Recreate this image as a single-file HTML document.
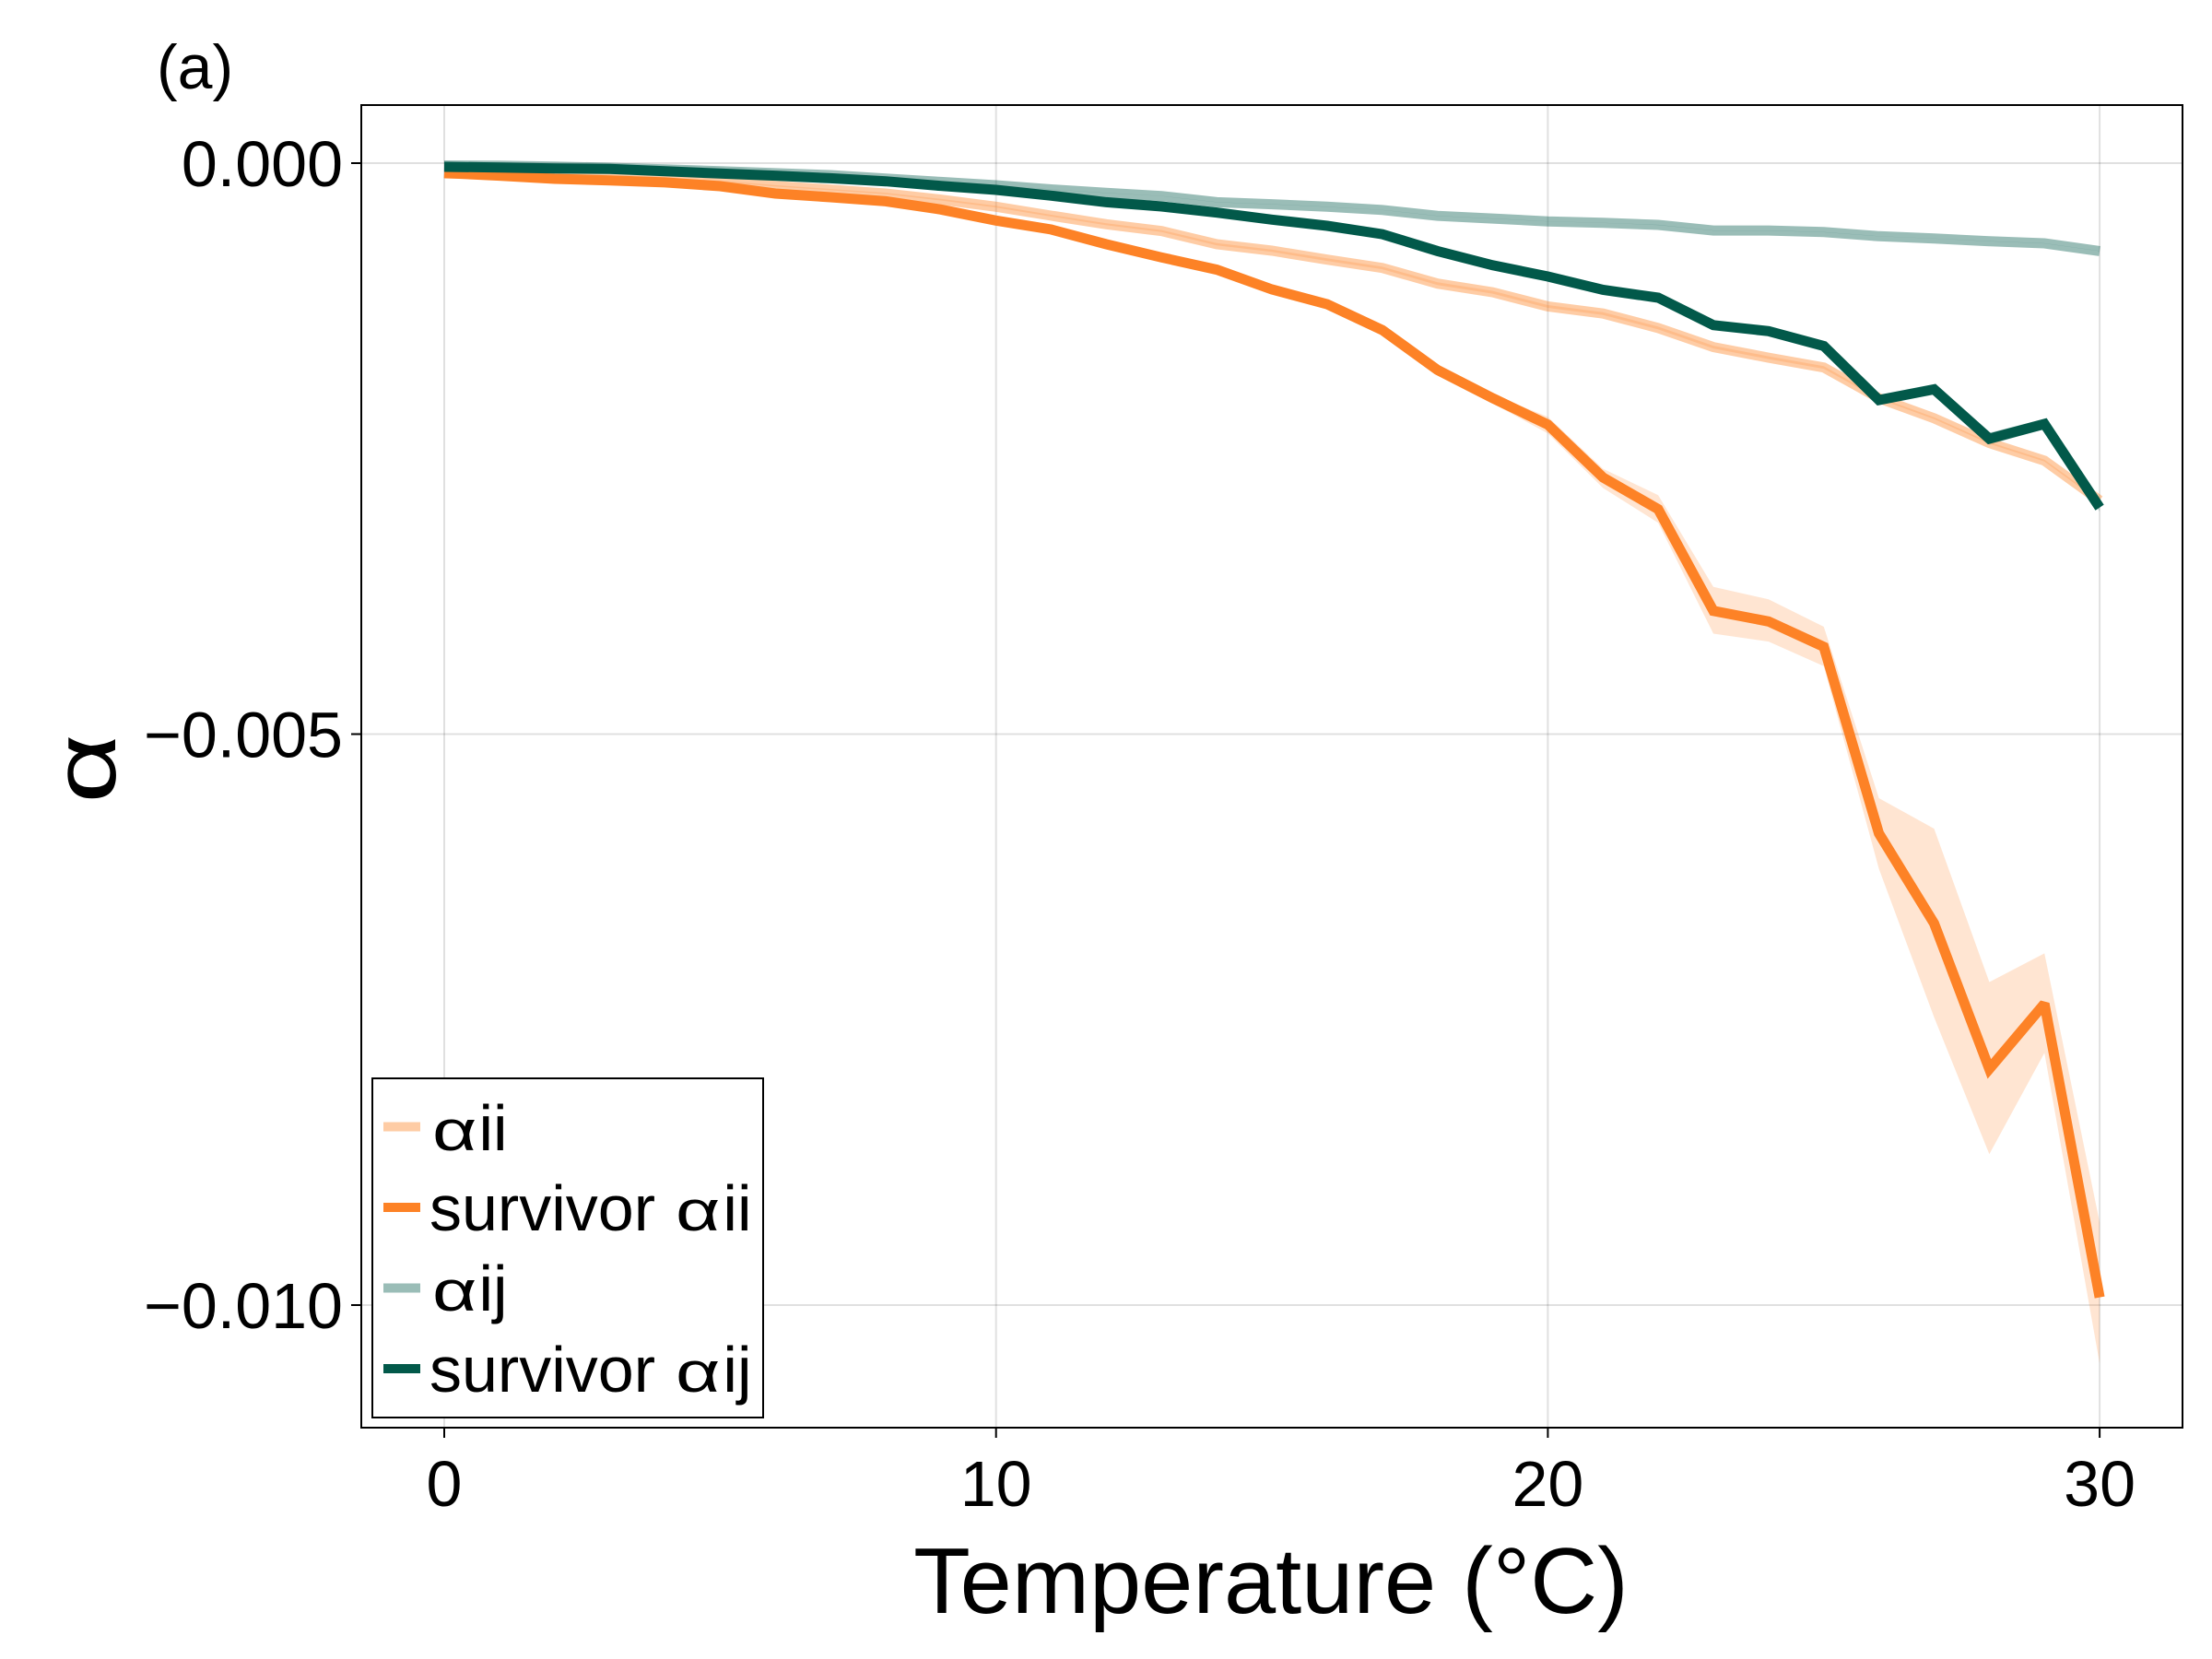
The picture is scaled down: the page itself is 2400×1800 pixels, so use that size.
<!DOCTYPE html>
<html lang="en">
<head>
<meta charset="utf-8">
<title>Alpha vs temperature</title>
<style>
html,body{margin:0;padding:0;background:#fff;width:2400px;height:1800px;overflow:hidden}
svg{display:block}
text{font-family:"Liberation Sans","DejaVu Sans",sans-serif;fill:#000}
</style>
</head>
<body>
<svg id="chart" xmlns="http://www.w3.org/2000/svg" width="2400" height="1800" viewBox="0 0 2400 1800">
  <rect x="0" y="0" width="2400" height="1800" fill="#fff"/>
  <g id="grid"></g>
  <g id="marks"></g>
  <rect x="392" y="114" width="1976" height="1435" fill="none" stroke="#000" stroke-width="2"/>
  <g id="ticks"></g>
  <text x="170" y="96" font-size="68">(a)</text>
  <text x="1379" y="1750" font-size="101" text-anchor="middle">Temperature (°C)</text>
  <text transform="translate(125,834) rotate(-90) scale(1.36,1)" font-size="96" text-anchor="middle">α</text>
  <g>
    <rect x="404" y="1170" width="424" height="368" fill="#fff" stroke="#000" stroke-width="2"/>
    <rect x="416" y="1217.5" width="40" height="10" fill="#fd7f1f" fill-opacity="0.4"/>
    <g>
      <text transform="translate(469,1248) scale(1.35,1)" font-size="62">α</text>
      <text x="519.5" y="1248" font-size="70">ii</text>
    </g>
    <rect x="416" y="1305" width="40" height="10" fill="#fd8226"/>
    <g>
      <text x="466" y="1335" font-size="70">survivor</text>
      <text transform="translate(733,1335) scale(1.35,1)" font-size="62">α</text>
      <text x="784.4" y="1335" font-size="70">ii</text>
    </g>
    <rect x="416" y="1392.5" width="40" height="10" fill="#02594a" fill-opacity="0.4"/>
    <g>
      <text transform="translate(469,1422) scale(1.35,1)" font-size="62">α</text>
      <text x="519.5" y="1422" font-size="70">ij</text>
    </g>
    <rect x="416" y="1480" width="40" height="10" fill="#02594a"/>
    <g>
      <text x="466" y="1510" font-size="70">survivor</text>
      <text transform="translate(733,1510) scale(1.35,1)" font-size="62">α</text>
      <text x="784.4" y="1510" font-size="70">ij</text>
    </g>
  </g>
</svg>
<script>
const temperatures = [0,1,2,3,4,5,6,7,8,9,10,11,12,13,14,15,16,17,18,19,20,21,22,23,24,25,26,27,28,29,30];
const xTickValues = [0,10,20,30];
const xTickLabels = ["0","10","20","30"];
const yTickValues = [0,-0.005,-0.01];
const yTickLabels = ["0.000","\u22120.005","\u22120.010"];

// All series are magnitudes in units of 1e-3; plotted as negative alpha.
const alphaIi = [.09,.095,.105,.12,.135,.159,.199,.232,.266,.32,.382,.46,.535,.595,.71,.767,.845,.918,1.055,1.131,1.255,1.317,1.444,1.611,1.704,1.789,2.058,2.234,2.45,2.605,2.954];
const alphaIiUpper = [.085,.09,.1,.115,.13,.153,.193,.226,.259,.313,.374,.452,.526,.586,.70,.757,.834,.907,1.043,1.119,1.243,1.305,1.432,1.599,1.692,1.777,2.05,2.226,2.442,2.597,2.944];
const alphaIiLower = [.095,.10,.11,.125,.14,.165,.205,.238,.273,.327,.39,.468,.544,.604,.72,.777,.856,.929,1.067,1.143,1.267,1.329,1.456,1.623,1.716,1.801,2.066,2.242,2.458,2.613,2.964];

const survivorAlphaIi = [.086,.11,.137,.151,.169,.202,.266,.299,.334,.406,.503,.581,.710,.826,.933,1.106,1.235,1.462,1.811,2.058,2.29,2.753,3.031,3.921,4.014,4.236,5.870,6.658,7.932,7.361,9.932];
const survivorAlphaIiUpper = [.078,.10,.128,.143,.161,.194,.258,.29,.325,.396,.492,.57,.698,.813,.92,1.09,1.217,1.44,1.789,2.026,2.222,2.676,2.908,3.711,3.819,4.060,5.561,5.828,7.171,6.920,9.276];
const survivorAlphaIiLower = [.095,.12,.146,.16,.178,.21,.275,.308,.343,.416,.514,.592,.722,.839,.946,1.122,1.253,1.484,1.852,2.105,2.367,2.845,3.149,4.120,4.190,4.405,6.179,7.480,8.678,7.792,10.512];

const alphaIj = [.02,.022,.03,.04,.055,.07,.088,.105,.135,.165,.194,.23,.261,.288,.342,.36,.382,.41,.462,.485,.51,.523,.541,.59,.59,.604,.64,.66,.684,.702,.77];
const alphaIjUpper = [.02,.022,.03,.04,.055,.07,.087,.104,.134,.164,.193,.229,.26,.287,.341,.359,.381,.409,.461,.484,.509,.522,.54,.589,.589,.603,.639,.659,.683,.701,.769];
const alphaIjLower = [.021,.023,.031,.041,.056,.071,.089,.106,.136,.166,.195,.231,.262,.289,.343,.361,.383,.411,.463,.486,.511,.524,.542,.591,.591,.605,.641,.661,.685,.703,.771];

const survivorAlphaIj = [.032,.038,.046,.051,.071,.091,.11,.132,.159,.199,.234,.285,.342,.379,.433,.495,.549,.622,.77,.894,.993,1.11,1.178,1.419,1.471,1.601,2.074,1.981,2.413,2.284,3.016];
const survivorAlphaIjUpper = [.03,.036,.043,.048,.068,.088,.106,.128,.155,.194,.229,.279,.336,.372,.426,.487,.54,.612,.758,.881,.98,1.095,1.162,1.402,1.453,1.582,2.05,1.955,2.36,2.24,2.98];
const survivorAlphaIjLower = [.034,.04,.049,.054,.074,.094,.114,.136,.163,.204,.239,.291,.348,.386,.44,.503,.558,.632,.782,.907,1.006,1.125,1.194,1.436,1.489,1.62,2.098,2.007,2.466,2.328,3.052];

const SVGNS = "http://www.w3.org/2000/svg";
const plotLeft = 392, plotRight = 2368, plotTop = 114, plotBottom = 1549;
const xOrigin = 482, xPerUnit = 59.87;
const yOrigin = 177, yPerUnit = 123900;
function xScale(t){ return xOrigin + t * xPerUnit; }
function yScale(v){ return yOrigin - v * yPerUnit; }
function magToY(m){ return yScale(-m / 1000); }
function make(tag){ return document.createElementNS(SVGNS, tag); }
function linePoints(values){
  return values.map(function(m, i){ return xScale(temperatures[i]).toFixed(1) + "," + magToY(m).toFixed(1); }).join(" ");
}
function bandPoints(upper, lower){
  const top = upper.map(function(m, i){ return xScale(temperatures[i]).toFixed(1) + "," + magToY(m).toFixed(1); });
  const bottom = lower.map(function(m, i){ return xScale(temperatures[i]).toFixed(1) + "," + magToY(m).toFixed(1); }).reverse();
  return top.concat(bottom).join(" ");
}

const grid = document.getElementById("grid");
const ticks = document.getElementById("ticks");
const marks = document.getElementById("marks");

xTickValues.forEach(function(t, i){
  const g = make("line");
  
  
  g.setAttribute("x1", xScale(t)); g.setAttribute("x2", xScale(t));
  g.setAttribute("y1", plotTop); g.setAttribute("y2", plotBottom);
  g.setAttribute("stroke", "#000"); g.setAttribute("stroke-opacity", "0.12"); g.setAttribute("stroke-width", "2");
  grid.appendChild(g);
  const k = make("line");
  
  
  k.setAttribute("x1", xScale(t)); k.setAttribute("x2", xScale(t));
  k.setAttribute("y1", plotBottom); k.setAttribute("y2", plotBottom + 11);
  k.setAttribute("stroke", "#000"); k.setAttribute("stroke-width", "2");
  ticks.appendChild(k);
  const l = make("text");
  
  
  l.setAttribute("x", xScale(t)); l.setAttribute("y", 1634);
  l.setAttribute("font-size", "70"); l.setAttribute("text-anchor", "middle");
  l.textContent = xTickLabels[i];
  ticks.appendChild(l);
});

yTickValues.forEach(function(v, i){
  const g = make("line");
  
  
  g.setAttribute("x1", plotLeft); g.setAttribute("x2", plotRight);
  g.setAttribute("y1", yScale(v)); g.setAttribute("y2", yScale(v));
  g.setAttribute("stroke", "#000"); g.setAttribute("stroke-opacity", "0.12"); g.setAttribute("stroke-width", "2");
  grid.appendChild(g);
  const k = make("line");
  
  
  k.setAttribute("x1", plotLeft - 11); k.setAttribute("x2", plotLeft);
  k.setAttribute("y1", yScale(v)); k.setAttribute("y2", yScale(v));
  k.setAttribute("stroke", "#000"); k.setAttribute("stroke-width", "2");
  ticks.appendChild(k);
  const l = make("text");
  
  
  l.setAttribute("x", 372); l.setAttribute("y", yScale(v) + 25);
  l.setAttribute("font-size", "70"); l.setAttribute("text-anchor", "end");
  l.textContent = yTickLabels[i];
  ticks.appendChild(l);
});

const bandAlphaIi = make("polygon");


bandAlphaIi.setAttribute("points", bandPoints(alphaIiUpper, alphaIiLower));
bandAlphaIi.setAttribute("fill", "#fd7f1f"); bandAlphaIi.setAttribute("fill-opacity", "0.2");
marks.appendChild(bandAlphaIi);

const bandSurvivorAlphaIi = make("polygon");


bandSurvivorAlphaIi.setAttribute("points", bandPoints(survivorAlphaIiUpper, survivorAlphaIiLower));
bandSurvivorAlphaIi.setAttribute("fill", "#fd7f1f"); bandSurvivorAlphaIi.setAttribute("fill-opacity", "0.2");
marks.appendChild(bandSurvivorAlphaIi);

const bandAlphaIj = make("polygon");


bandAlphaIj.setAttribute("points", bandPoints(alphaIjUpper, alphaIjLower));
bandAlphaIj.setAttribute("fill", "#02594a"); bandAlphaIj.setAttribute("fill-opacity", "0.2");
marks.appendChild(bandAlphaIj);

const bandSurvivorAlphaIj = make("polygon");


bandSurvivorAlphaIj.setAttribute("points", bandPoints(survivorAlphaIjUpper, survivorAlphaIjLower));
bandSurvivorAlphaIj.setAttribute("fill", "#02594a"); bandSurvivorAlphaIj.setAttribute("fill-opacity", "0.2");
marks.appendChild(bandSurvivorAlphaIj);

const lineAlphaIi = make("polyline");


lineAlphaIi.setAttribute("points", linePoints(alphaIi));
lineAlphaIi.setAttribute("fill", "none"); lineAlphaIi.setAttribute("stroke", "#fd7f1f");
lineAlphaIi.setAttribute("stroke-opacity", "0.4"); lineAlphaIi.setAttribute("stroke-width", "11");
lineAlphaIi.setAttribute("stroke-miterlimit", "2.1");
marks.appendChild(lineAlphaIi);

const lineSurvivorAlphaIi = make("polyline");


lineSurvivorAlphaIi.setAttribute("points", linePoints(survivorAlphaIi));
lineSurvivorAlphaIi.setAttribute("fill", "none"); lineSurvivorAlphaIi.setAttribute("stroke", "#fd8226");
lineSurvivorAlphaIi.setAttribute("stroke-width", "11");
lineSurvivorAlphaIi.setAttribute("stroke-miterlimit", "2.1");
marks.appendChild(lineSurvivorAlphaIi);

const lineAlphaIj = make("polyline");


lineAlphaIj.setAttribute("points", linePoints(alphaIj));
lineAlphaIj.setAttribute("fill", "none"); lineAlphaIj.setAttribute("stroke", "#02594a");
lineAlphaIj.setAttribute("stroke-opacity", "0.4"); lineAlphaIj.setAttribute("stroke-width", "11");
lineAlphaIj.setAttribute("stroke-miterlimit", "2.1");
marks.appendChild(lineAlphaIj);

const lineSurvivorAlphaIj = make("polyline");


lineSurvivorAlphaIj.setAttribute("points", linePoints(survivorAlphaIj));
lineSurvivorAlphaIj.setAttribute("fill", "none"); lineSurvivorAlphaIj.setAttribute("stroke", "#02594a");
lineSurvivorAlphaIj.setAttribute("stroke-width", "11");
lineSurvivorAlphaIj.setAttribute("stroke-miterlimit", "2.1");
marks.appendChild(lineSurvivorAlphaIj);
</script>
</body>
</html>
